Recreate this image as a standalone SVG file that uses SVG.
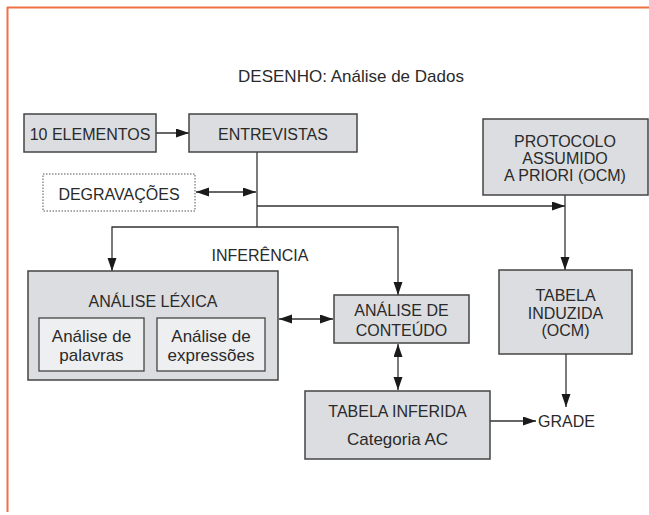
<svg xmlns="http://www.w3.org/2000/svg" width="649" height="515" viewBox="0 0 649 515">
<style>
text{font-family:"Liberation Sans",Arial,sans-serif;fill:#2a2a2a;text-anchor:middle}
.c{font-size:16px}
.l{font-size:17px}
.t{font-size:17px}
.box{fill:#dcdde0;stroke:#444;stroke-width:1.5}
.inner{fill:#eeeff1;stroke:#444;stroke-width:1.3}
.dot{fill:#fff;stroke:#555;stroke-width:1;stroke-dasharray:1.5 1.5}
.ln{fill:none;stroke:#333;stroke-width:1.3}
</style>
<defs>
<marker id="ah" markerUnits="userSpaceOnUse" markerWidth="14" markerHeight="10" refX="13" refY="4.5" orient="auto-start-reverse"><path d="M0,0 L13,4.5 L0,9 Z" fill="#1a1a1a"/></marker>
</defs>
<g id="frame" fill="none" stroke="#f07044" stroke-width="2">
<line x1="7" y1="7.5" x2="649" y2="7.5"/>
<line x1="7.5" y1="7" x2="7.5" y2="512"/>
</g>
<g id="title"><text class="t" x="351" y="82">DESENHO: Análise de Dados</text></g>
<g id="connectors">
<line class="ln" x1="156" y1="133" x2="189" y2="133" marker-end="url(#ah)"/>
<line class="ln" x1="257" y1="152" x2="257" y2="227"/>
<line class="ln" x1="196" y1="192" x2="256" y2="192" marker-start="url(#ah)" marker-end="url(#ah)"/>
<line class="ln" x1="257" y1="206" x2="565" y2="206" marker-end="url(#ah)"/>
<line class="ln" x1="565" y1="195" x2="565" y2="270" marker-end="url(#ah)"/>
<polyline class="ln" points="112,271 112,227 398,227 398,295" marker-start="url(#ah)" marker-end="url(#ah)"/>
<line class="ln" x1="279" y1="319" x2="333" y2="319" marker-start="url(#ah)" marker-end="url(#ah)"/>
<line class="ln" x1="398" y1="344" x2="398" y2="390" marker-start="url(#ah)" marker-end="url(#ah)"/>
<line class="ln" x1="566" y1="354" x2="566" y2="407" marker-end="url(#ah)"/>
<line class="ln" x1="490" y1="421" x2="536" y2="421" marker-end="url(#ah)"/>
</g>
<g id="elementos"><rect class="box" x="24" y="114" width="132" height="38"/><text class="c" x="90" y="140">10 ELEMENTOS</text></g>
<g id="entrevistas"><rect class="box" x="189" y="114" width="168" height="38"/><text class="c" x="273" y="140">ENTREVISTAS</text></g>
<g id="degravacoes"><rect class="dot" x="43" y="174" width="152" height="37"/><text class="c" x="119" y="200">DEGRAVAÇÕES</text></g>
<g id="protocolo"><rect class="box" x="483" y="119" width="165" height="76"/>
<text class="c" x="565" y="147">PROTOCOLO</text><text class="c" x="565" y="164">ASSUMIDO</text><text class="c" x="565" y="181">A PRIORI (OCM)</text></g>
<g id="inferencia"><text class="c" x="260" y="261">INFERÊNCIA</text></g>
<g id="lexica"><rect class="box" x="28" y="271" width="250" height="109"/><text class="c" x="153" y="307">ANÁLISE LÉXICA</text>
<g id="palavras"><rect class="inner" x="39" y="318" width="105" height="53"/><text class="l" x="91.5" y="342">Análise de</text><text class="l" x="91.5" y="361">palavras</text></g>
<g id="expressoes"><rect class="inner" x="157" y="318" width="108" height="53"/><text class="l" x="211" y="342">Análise de</text><text class="l" x="211" y="361">expressões</text></g>
</g>
<g id="conteudo"><rect class="box" x="334" y="295" width="135" height="48"/><text class="c" x="401.5" y="316">ANÁLISE DE</text><text class="c" x="401.5" y="336">CONTEÚDO</text></g>
<g id="induzida"><rect class="box" x="499" y="270" width="133" height="84"/><text class="c" x="565.5" y="301">TABELA</text><text class="c" x="565.5" y="319">INDUZIDA</text><text class="c" x="565.5" y="336">(OCM)</text></g>
<g id="inferida"><rect class="box" x="305" y="391" width="185" height="68"/><text class="c" x="397.5" y="417">TABELA INFERIDA</text><text class="l" x="397.5" y="445">Categoria AC</text></g>
<g id="grade"><text class="c" x="538" y="427" style="text-anchor:start">GRADE</text></g>
</svg>
